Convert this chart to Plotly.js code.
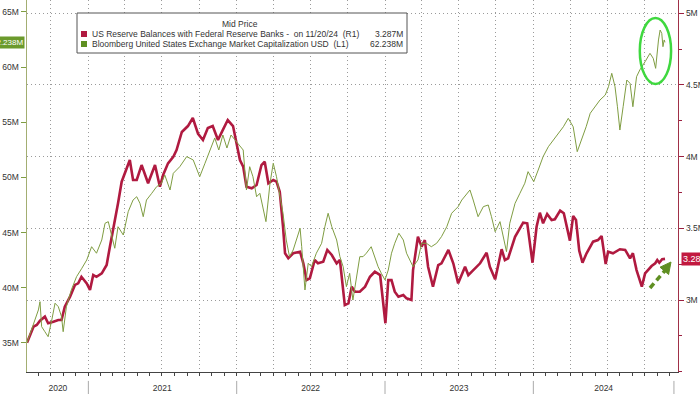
<!DOCTYPE html>
<html>
<head>
<meta charset="utf-8">
<script src="https://cdn.plot.ly/plotly-3.0.1.min.js"></script>
<style>html,body{margin:0;padding:0;background:#fff;}#chart{width:700px;height:394px;}</style>
</head>
<body>
<div id="chart"></div>
<script>
// US Reserve Balances with Federal Reserve Banks (millions of millions, right axis)
const reserveSeries = [
['2020-08-03',2.702],['2020-08-19',2.814],['2020-08-27',2.826],['2020-09-04',2.856],['2020-09-16',2.884],['2020-09-24',2.838],
['2020-10-07',2.849],['2020-10-19',2.861],['2020-10-27',2.861],['2020-11-04',2.953],['2020-11-17',3.023],['2020-11-29',3.105],
['2020-12-07',3.116],['2020-12-15',3.162],['2020-12-28',3.116],['2021-01-05',3.070],['2021-01-13',3.174],['2021-01-21',3.162],
['2021-02-03',3.186],['2021-02-15',3.244],['2021-02-23',3.372],['2021-03-07',3.546],['2021-03-15',3.674],['2021-03-24',3.825],
['2021-04-13',3.976],['2021-04-21',3.837],['2021-04-30',3.837],['2021-05-12',3.941],['2021-05-28',3.814],['2021-06-14',3.941],
['2021-06-26',3.790],['2021-07-04',3.872],['2021-07-16',3.953],['2021-07-29',3.999],['2021-08-06',4.046],['2021-08-19',4.172],
['2021-09-03',4.213],['2021-09-15',4.269],['2021-09-28',4.158],['2021-10-10',4.116],['2021-10-22',4.199],['2021-11-03',4.213],
['2021-11-16',4.116],['2021-11-28',4.186],['2021-12-10',4.255],['2021-12-23',4.213],['2022-01-02',4.081],['2022-01-09',3.976],
['2022-01-17',3.930],['2022-01-25',3.790],['2022-02-07',3.779],['2022-02-19',3.802],['2022-03-03',3.941],['2022-03-11',3.964],
['2022-03-20',3.814],['2022-04-01',3.837],['2022-04-09',3.825],['2022-04-17',3.755],['2022-04-25',3.511],['2022-04-30',3.326],
['2022-05-08',3.291],['2022-05-20',3.326],['2022-06-06',3.337],['2022-06-14',3.256],['2022-06-22',3.139],['2022-06-30',3.151],
['2022-07-12',3.279],['2022-07-20',3.256],['2022-08-02',3.267],['2022-08-12',3.349],['2022-08-23',3.314],['2022-09-04',3.256],
['2022-09-12',3.279],['2022-09-24',2.965],['2022-10-03',2.977],['2022-10-11',3.093],['2022-10-19',3.058],['2022-10-31',3.058],
['2022-11-13',3.093],['2022-11-25',3.162],['2022-12-07',3.197],['2022-12-20',3.174],['2023-01-02',2.838],['2023-01-09',3.139],
['2023-01-17',3.139],['2023-01-25',3.058],['2023-02-03',3.023],['2023-02-15',3.035],['2023-02-23',3.012],['2023-03-07',3.000],
['2023-03-11',3.209],['2023-03-23',3.441],['2023-04-01',3.372],['2023-04-09',3.418],['2023-04-17',3.232],['2023-04-29',3.093],
['2023-05-12',3.244],['2023-05-20',3.256],['2023-06-06',3.349],['2023-06-18',3.256],['2023-06-30',3.116],['2023-07-17',3.232],
['2023-07-25',3.174],['2023-08-10',3.221],['2023-08-23',3.256],['2023-09-08',3.330],['2023-09-16',3.232],['2023-09-29',3.144],
['2023-10-15',3.354],['2023-10-23',3.279],['2023-10-31',3.291],['2023-11-17',3.441],['2023-12-07',3.539],['2023-12-17',3.535],
['2023-12-30',3.260],['2024-01-09',3.511],['2024-01-17',3.609],['2024-01-25',3.535],['2024-02-04',3.600],['2024-02-15',3.558],
['2024-02-23',3.563],['2024-03-07',3.623],['2024-03-16',3.605],['2024-03-31',3.414],['2024-04-08',3.586],['2024-04-15',3.558],
['2024-04-23',3.344],['2024-05-01',3.260],['2024-05-11',3.326],['2024-05-27',3.407],['2024-06-08',3.418],['2024-06-17',3.446],
['2024-06-27',3.251],['2024-07-03',3.337],['2024-07-15',3.326],['2024-08-01',3.354],['2024-08-14',3.349],['2024-08-26',3.291],
['2024-09-02',3.326],['2024-09-11',3.209],['2024-09-24',3.093],['2024-10-02',3.186],['2024-10-18',3.237],['2024-10-27',3.256],
['2024-11-01',3.279],['2024-11-06',3.260],['2024-11-13',3.284],['2024-11-20',3.287]
];

// Bloomberg United States Exchange Market Capitalization USD (millions of millions, left axis)
const marketCapSeries = [
['2020-08-03',35.03],['2020-08-19',36.63],['2020-08-31',37.99],['2020-09-04',38.74],['2020-09-08',36.48],['2020-09-16',36.02],
['2020-09-24',35.57],['2020-10-03',37.08],['2020-10-11',38.60],['2020-10-19',38.29],['2020-10-27',37.38],['2020-10-31',36.02],
['2020-11-08',38.29],['2020-11-20',39.80],['2020-12-03',41.01],['2020-12-16',41.77],['2020-12-28',42.52],['2021-01-09',43.72],
['2021-01-21',43.13],['2021-02-03',44.33],['2021-02-11',45.84],['2021-02-19',45.99],['2021-02-27',44.63],['2021-03-07',43.58],
['2021-03-15',45.53],['2021-03-28',44.78],['2021-04-09',46.89],['2021-04-21',47.95],['2021-04-30',48.25],['2021-05-08',47.65],
['2021-05-16',46.44],['2021-05-24',47.95],['2021-06-06',48.56],['2021-06-18',49.16],['2021-06-30',49.47],['2021-07-08',50.22],
['2021-07-21',48.86],['2021-07-29',50.37],['2021-08-14',50.97],['2021-08-31',51.88],['2021-09-16',51.58],['2021-10-02',50.06],
['2021-10-15',51.28],['2021-10-27',52.48],['2021-11-08',53.57],['2021-11-18',52.48],['2021-11-28',53.84],['2021-12-08',52.66],
['2021-12-18',53.84],['2021-12-28',53.39],['2022-01-09',52.78],['2022-01-17',52.48],['2022-01-25',48.86],['2022-02-02',50.97],
['2022-02-10',50.06],['2022-02-19',48.25],['2022-02-27',48.56],['2022-03-07',47.05],['2022-03-14',45.99],['2022-03-24',49.47],
['2022-04-01',51.28],['2022-04-09',50.06],['2022-04-17',48.25],['2022-04-25',46.75],['2022-05-03',44.33],['2022-05-11',42.82],
['2022-05-20',43.42],['2022-05-28',44.33],['2022-06-06',45.39],['2022-06-10',43.72],['2022-06-18',39.80],['2022-06-26',42.22],
['2022-07-04',41.91],['2022-07-16',43.13],['2022-07-29',44.03],['2022-08-06',45.53],['2022-08-14',46.75],['2022-08-23',45.53],
['2022-09-04',44.33],['2022-09-12',42.82],['2022-09-20',41.91],['2022-09-28',40.10],['2022-10-06',41.31],['2022-10-14',38.89],
['2022-10-22',40.71],['2022-10-31',42.82],['2022-11-08',42.82],['2022-11-16',43.13],['2022-11-28',43.72],['2022-12-07',42.82],
['2022-12-15',41.91],['2022-12-23',41.31],['2023-01-01',40.71],['2023-01-09',41.61],['2023-01-17',43.13],['2023-01-25',44.03],
['2023-02-04',44.94],['2023-02-15',44.33],['2023-02-23',43.13],['2023-03-03',42.52],['2023-03-11',41.91],['2023-03-23',42.52],
['2023-04-01',44.03],['2023-04-13',44.03],['2023-04-25',43.72],['2023-05-08',44.03],['2023-05-20',44.63],['2023-06-02',45.53],
['2023-06-14',46.75],['2023-06-22',47.05],['2023-06-30',47.35],['2023-07-09',47.95],['2023-07-21',48.56],['2023-07-29',48.86],
['2023-08-06',47.95],['2023-08-18',46.44],['2023-08-31',47.35],['2023-09-12',47.50],['2023-09-20',46.44],['2023-09-29',45.08],
['2023-10-11',45.99],['2023-10-19',44.63],['2023-10-27',43.27],['2023-11-04',45.84],['2023-11-17',47.65],['2023-11-29',48.56],
['2023-12-11',49.47],['2023-12-19',50.52],['2024-01-02',49.61],['2024-01-13',50.67],['2024-01-25',51.88],['2024-02-07',52.78],
['2024-02-19',53.39],['2024-03-02',53.99],['2024-03-15',54.59],['2024-03-27',55.35],['2024-04-08',54.59],['2024-04-18',52.33],
['2024-04-29',53.39],['2024-05-10',54.59],['2024-05-20',55.81],['2024-06-01',56.40],['2024-06-13',57.01],['2024-06-26',57.46],
['2024-07-04',58.22],['2024-07-12',59.43],['2024-07-20',58.22],['2024-07-26',56.40],['2024-08-01',54.29],['2024-08-09',56.40],
['2024-08-18',58.82],['2024-08-26',58.52],['2024-09-02',56.40],['2024-09-11',59.12],['2024-09-19',59.73],['2024-10-02',60.48],
['2024-10-14',61.24],['2024-10-22',60.79],['2024-10-28',59.88],['2024-11-04',62.45],['2024-11-08',63.35],['2024-11-12',63.05],
['2024-11-15',61.84],['2024-11-18',62.45],['2024-11-20',62.238]
];

const reserveName = 'US Reserve Balances with Federal Reserve Banks -  on 11/20/24  (R1)';
const marketCapName = 'Bloomberg United States Exchange Market Capitalization USD  (L1)';
const reserveLast = '3.287M';
const marketCapLast = '62.238M';
const legendTitle = 'Mid Price';

const leftTickVals = [35, 40, 45, 50, 55, 60, 65];
const leftTickText = ['35M', '40M', '45M', '50M', '55M', '60M', '65M'];
const rightTickVals = [3, 3.5, 4, 4.5, 5];
const rightTickText = ['3M', '3.5M', '4M', '4.5M', '5M'];
const yearTickVals = ['2020-10-18', '2021-07-02', '2022-07-02', '2023-07-02', '2024-06-22'];
const yearTickText = ['2020', '2021', '2022', '2023', '2024'];
const yearBoundaries = ['2021-01-01', '2022-01-01', '2023-01-01', '2024-01-01', '2024-12-12'];

const xRange = ['2020-08-03', '2024-12-22'];
const leftRange = [32.37, 66.07];
const rightRange = [2.498, 5.092];

const RED = '#b01a40';
const GREEN = '#7f9d42';
const GREEN_DARK = '#5f8f22';
const FONT = 'Liberation Sans, Arial, sans-serif';

const traces = [
  {x: reserveSeries.map(p => p[0]), y: reserveSeries.map(p => p[1]), type: 'scatter', mode: 'lines',
   line: {color: RED, width: 2.6}, xaxis: 'x', yaxis: 'y', hoverinfo: 'skip'},
  {x: marketCapSeries.map(p => p[0]), y: marketCapSeries.map(p => p[1]), type: 'scatter', mode: 'lines',
   line: {color: GREEN, width: 1}, xaxis: 'x', yaxis: 'y2', hoverinfo: 'skip'},
  {x: [], y: [], type: 'scatter', mode: 'lines', xaxis: 'x2', yaxis: 'y', hoverinfo: 'skip'}
];

// paper helpers for decoration placement (plot area 651 x 372, offset 27,0)
const PX = px => (px - 27) / 651;
const PY = py => 1 - py / 372;

const shapes = [];
yearBoundaries.forEach(d => shapes.push({type: 'line', xref: 'x', yref: 'paper', x0: d, x1: d, y0: -0.024, y1: -0.062,
  line: {color: '#aaaaaa', width: 1}}));
// legend box
shapes.push({type: 'rect', xref: 'paper', yref: 'paper', x0: PX(77), x1: PX(407), y0: PY(13), y1: PY(53),
  fillcolor: '#ffffff', line: {color: '#555555', width: 1}, layer: 'above'});
shapes.push({type: 'rect', xref: 'paper', yref: 'paper', x0: PX(81), x1: PX(87), y0: PY(31), y1: PY(37),
  fillcolor: RED, line: {width: 0}, layer: 'above'});
shapes.push({type: 'rect', xref: 'paper', yref: 'paper', x0: PX(81), x1: PX(87), y0: PY(41), y1: PY(47),
  fillcolor: GREEN_DARK, line: {width: 0}, layer: 'above'});
// highlight ellipse
shapes.push({type: 'circle', xref: 'x', yref: 'y2', x0: '2024-09-19', x1: '2024-12-05', y0: 58.46, y1: 64.44,
  line: {color: '#3fd83f', width: 2.5}, layer: 'above'});
// dashed arrow
shapes.push({type: 'line', xref: 'paper', yref: 'paper', x0: PX(650), y0: PY(288), x1: PX(665), y1: PY(270.5),
  line: {color: GREEN_DARK, width: 3.5, dash: '6px,4px'}, layer: 'above'});
shapes.push({type: 'path', xref: 'paper', yref: 'paper',
  path: `M ${PX(671)} ${PY(262)} L ${PX(668.6)} ${PY(274.5)} L ${PX(660)} ${PY(267.2)} Z`,
  fillcolor: GREEN_DARK, line: {color: GREEN_DARK, width: 1}, layer: 'above'});

const annFont = {family: FONT, size: 8.5, color: '#333'};
const annotations = [
  {xref: 'paper', yref: 'paper', x: PX(240), y: PY(24), text: legendTitle, showarrow: false, xanchor: 'center', yanchor: 'middle', font: annFont},
  {xref: 'paper', yref: 'paper', x: PX(90), y: PY(34), text: reserveName, showarrow: false, xanchor: 'left', yanchor: 'middle', font: annFont},
  {xref: 'paper', yref: 'paper', x: PX(405), y: PY(34), text: reserveLast, showarrow: false, xanchor: 'right', yanchor: 'middle', font: annFont},
  {xref: 'paper', yref: 'paper', x: PX(90), y: PY(44), text: marketCapName, showarrow: false, xanchor: 'left', yanchor: 'middle', font: annFont},
  {xref: 'paper', yref: 'paper', x: PX(405), y: PY(44), text: marketCapLast, showarrow: false, xanchor: 'right', yanchor: 'middle', font: annFont},
  {xref: 'paper', yref: 'y2', x: 0, y: marketCapSeries[marketCapSeries.length - 1][1], text: marketCapLast, showarrow: false,
   xanchor: 'right', yanchor: 'middle', xshift: -2, bgcolor: '#6b9a2c', borderpad: 1,
   font: {family: FONT, size: 8, color: '#ffffff'}},
  {xref: 'paper', yref: 'y', x: 1, y: reserveSeries[reserveSeries.length - 1][1], text: reserveLast, showarrow: false,
   xanchor: 'left', yanchor: 'middle', xshift: 3, bgcolor: '#c2193f', borderpad: 1,
   font: {family: FONT, size: 9, color: '#ffffff'}}
];

const layout = {
  width: 700, height: 394,
  margin: {l: 27, r: 22, t: 0, b: 22, pad: 0},
  paper_bgcolor: '#ffffff', plot_bgcolor: '#ffffff',
  showlegend: false,
  font: {family: FONT, size: 9, color: '#333'},
  xaxis: {type: 'date', range: xRange, tick0: '2020-01-01', dtick: 'M3', showticklabels: false,
    ticks: 'outside', ticklen: 3, tickcolor: '#444', showgrid: true, gridcolor: '#9a9a9a', griddash: '1px,3px', gridwidth: 1,
    showline: true, linecolor: '#444', linewidth: 1, zeroline: false,
    minor: {tick0: '2020-01-01', dtick: 'M1', ticks: 'outside', ticklen: 3, tickcolor: '#444', showgrid: false}},
  xaxis2: {type: 'date', range: xRange, overlaying: 'x', anchor: 'y', side: 'bottom',
    tickmode: 'array', tickvals: yearTickVals, ticktext: yearTickText, ticks: '', showgrid: false, showline: false,
    zeroline: false, ticklabelstandoff: 9, tickfont: {family: FONT, size: 8.5, color: '#333'}},
  yaxis: {range: rightRange, side: 'right', tickmode: 'array', tickvals: rightTickVals, ticktext: rightTickText,
    ticks: 'outside', ticklen: 5, tickcolor: '#9b2040', showgrid: true, gridcolor: '#9a9a9a', griddash: '1px,3px', gridwidth: 1,
    showline: true, linecolor: '#a03048', linewidth: 1.2, zeroline: false, tickfont: {family: FONT, size: 8.5, color: '#333'},
    minor: {tick0: 2.5, dtick: 0.25, ticks: 'outside', ticklen: 3, tickcolor: '#9b2040', showgrid: false}},
  yaxis2: {range: leftRange, overlaying: 'y', side: 'left', tickmode: 'array', tickvals: leftTickVals, ticktext: leftTickText,
    ticks: 'outside', ticklen: 5, tickcolor: '#7f9d42', showgrid: false, showline: true, linecolor: '#a3ae72', linewidth: 1.5,
    zeroline: false, tickfont: {family: FONT, size: 8.5, color: '#333'}},
  shapes: shapes,
  annotations: annotations
};

Plotly.newPlot('chart', traces, layout, {staticPlot: true, displayModeBar: false});
</script>
</body>
</html>
